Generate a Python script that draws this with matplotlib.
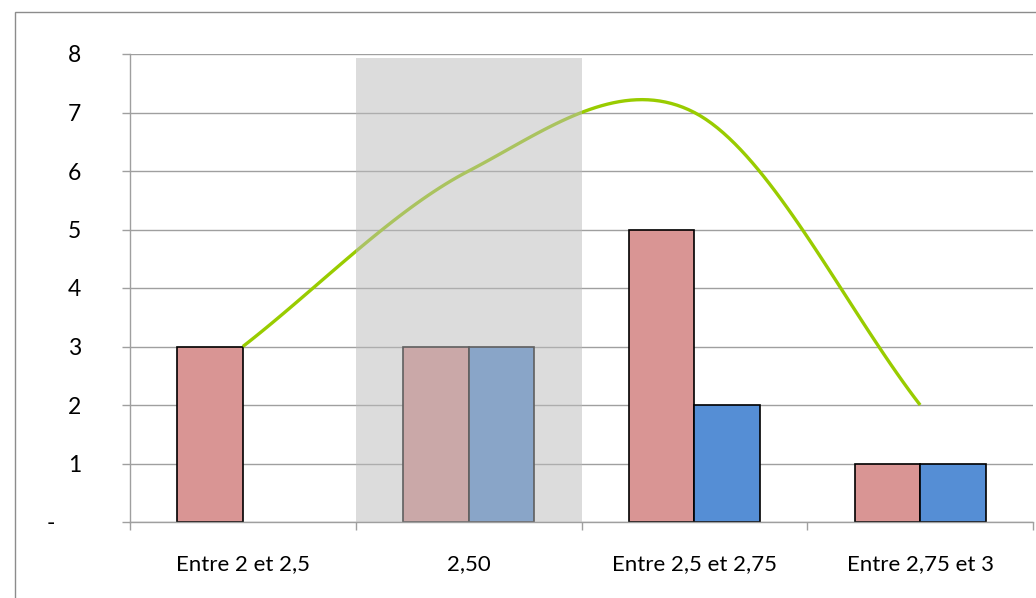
import numpy as np
import matplotlib.pyplot as plt
from matplotlib.patches import Rectangle
from matplotlib.transforms import ScaledTranslation

plt.rcParams['font.family'] = ['Lato', 'DejaVu Sans']

categories = ['Entre 2 et 2,5', '2,50', 'Entre 2,5 et 2,75', 'Entre 2,75 et 3']
serie_rouge = [3, 3, 5, 1]
serie_bleue = [np.nan, 3, 2, 1]
courbe = [3, 6, 7, 2]
y_ticks = [0, 1, 2, 3, 4, 5, 6, 7, 8]
y_labels = ['-', '1', '2', '3', '4', '5', '6', '7', '8']
zone_grise = (0.5, 1.5, 7.93)   # debut, fin, hauteur de la zone mise en avant


def lissage(x, y, n=40):
    # courbe lissee facon Excel (Hermite, tangentes de Catmull-Rom)
    x = np.asarray(x, float)
    y = np.asarray(y, float)
    m = np.empty_like(y)
    m[1:-1] = (y[2:] - y[:-2]) / (x[2:] - x[:-2])
    m[0] = (y[1] - y[0]) / (x[1] - x[0])
    m[-1] = (y[-1] - y[-2]) / (x[-1] - x[-2])
    xs, ys = [], []
    for i in range(len(x) - 1):
        h = x[i + 1] - x[i]
        t = np.linspace(0, 1, n)
        h00 = 2 * t**3 - 3 * t**2 + 1
        h10 = t**3 - 2 * t**2 + t
        h01 = -2 * t**3 + 3 * t**2
        h11 = t**3 - t**2
        xs.append(x[i] + t * h)
        ys.append(h00 * y[i] + h10 * h * m[i] + h01 * y[i + 1] + h11 * h * m[i + 1])
    return np.concatenate(xs), np.concatenate(ys)


fig = plt.figure(figsize=(10.36, 5.98), dpi=100)
ax = fig.add_axes([130 / 1036, 1 - 522 / 598, 903 / 1036, 468 / 598])

# cadre du graphique
fig.patches.append(Rectangle((15 / 1036, -0.2), 1.2, 1.2 - 12 / 598,
                             transform=fig.transFigure, fill=False,
                             edgecolor='#8c8c8c', linewidth=1.0))

x = np.arange(len(categories))
w = 0.29
ax.bar(x - w / 2, serie_rouge, width=w, color='#d99594', edgecolor='black',
       linewidth=1.2, zorder=2)
ax.bar(x + w / 2, serie_bleue, width=w, color='#558ed5', edgecolor='black',
       linewidth=1.2, zorder=2)

xc, yc = lissage(x, courbe)
ax.plot(xc, yc, color='#99cc00', linewidth=2.4, zorder=3, solid_capstyle='butt')

ax.add_patch(Rectangle((zone_grise[0], 0), zone_grise[1] - zone_grise[0], zone_grise[2],
                       facecolor='#bcbcbc', alpha=0.51, edgecolor='none', zorder=4))

ax.set_xlim(-0.5, len(categories) - 0.5)
ax.set_ylim(0, 8)

ax.set_yticks(y_ticks)
ax.set_yticklabels(y_labels)
ax.tick_params(axis='y', direction='out', length=6, width=1, color='#9f9f9f',
               pad=29, labelsize=16.5)
ax.yaxis.grid(True, color='#9f9f9f', linewidth=1, zorder=0)
ax.set_axisbelow(True)

ax.set_xticks(x)
ax.set_xticklabels(categories)
ax.set_xticks(np.arange(-0.5, len(categories)), minor=True)
ax.tick_params(axis='x', which='major', length=0, pad=23, labelsize=16)
ax.tick_params(axis='x', which='minor', direction='out', length=6, width=1,
               color='#9f9f9f')

for s in ['top', 'right']:
    ax.spines[s].set_visible(False)
for s in ['left', 'bottom']:
    ax.spines[s].set_color('#9f9f9f')
    ax.spines[s].set_linewidth(1)

# le tiret du zero est decale vers la gauche
lab0 = ax.get_yticklabels()[0]
lab0.set_transform(lab0.get_transform() + ScaledTranslation(-26 / 100, 0, fig.dpi_scale_trans))

fig.savefig('out.png', dpi=100)
